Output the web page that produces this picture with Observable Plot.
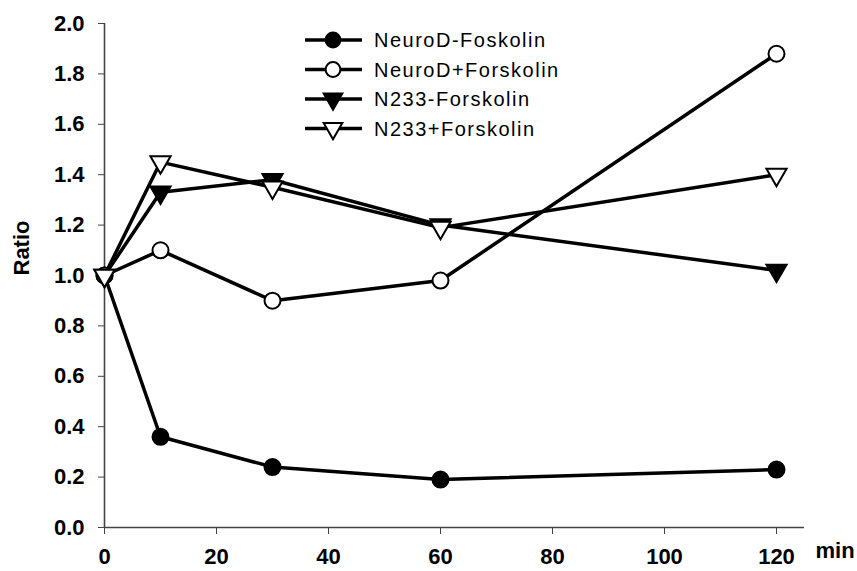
<!DOCTYPE html>
<html>
<head>
<meta charset="utf-8">
<script src="https://cdn.jsdelivr.net/npm/d3@7"></script>
<script src="https://cdn.jsdelivr.net/npm/@observablehq/plot@0.6"></script>
<style>
  body { margin: 0; background: #fff; }
  #wrap { position: relative; width: 857px; height: 571px; }
  #legend { position: absolute; left: 300px; top: 20px; }
  #chart svg text { font-size: 22px !important; font-weight: bold; fill: black; }
</style>
</head>
<body>
<div id="wrap"><div id="chart"></div><div id="legend"></div></div>
<script>
const times = [0, 10, 30, 60, 120];
const seriesNames = ["NeuroD-Foskolin", "NeuroD+Forskolin", "N233-Forskolin", "N233+Forskolin"];
const neuroDMinus = [1.0, 0.36, 0.24, 0.19, 0.23];
const neuroDPlus  = [1.0, 1.10, 0.90, 0.98, 1.88];
const n233Minus   = [1.0, 1.33, 1.38, 1.20, 1.02];
const n233Plus    = [1.0, 1.45, 1.35, 1.19, 1.40];
const xTicks = [0, 20, 40, 60, 80, 100, 120];
const yTicks = [0, 0.2, 0.4, 0.6, 0.8, 1.0, 1.2, 1.4, 1.6, 1.8, 2.0];

const seriesValues = [neuroDMinus, neuroDPlus, n233Minus, n233Plus];
const symbols = ["circle", "circle", "triangle", "triangle"];
const fills = ["black", "white", "black", "white"];
const rotations = [0, 0, 180, 180];
const radii = [8, 8, 7.5, 7.5];

const data = [];
seriesNames.forEach((name, i) => {
  times.forEach((t, j) => data.push({series: name, idx: i, t, v: seriesValues[i][j]}));
});

const font = "'Liberation Sans', Arial, sans-serif";

const dotMarks = seriesNames.map((name, i) =>
  Plot.dot(data.filter(d => d.idx === i), {
    x: "t", y: "v", symbol: symbols[i], r: radii[i], fill: fills[i],
    stroke: "black", strokeWidth: 2, rotate: rotations[i]
  })
);

const chart = Plot.plot({
  width: 857, height: 571,
  marginLeft: 104, marginTop: 23, marginBottom: 44, marginRight: 53,
  style: {fontFamily: font, fontSize: "22px", color: "black", background: "white", overflow: "visible"},
  x: {domain: [0, 125]},
  y: {domain: [0, 2]},
  marks: [
    Plot.axisY({ticks: yTicks, tickFormat: d3.format(".1f"), tickSize: 6, tickPadding: 14,
      label: null, fontSize: 22, stroke: "#444", fill: "black"}),
    Plot.axisX({ticks: xTicks, tickSize: 7, tickPadding: 14, label: null,
      fontSize: 22, stroke: "#444", fill: "black"}),
    Plot.ruleX([0], {stroke: "#444", strokeWidth: 1.6}),
    Plot.ruleY([0], {stroke: "#444", strokeWidth: 1.6}),
    Plot.text(["Ratio"], {text: d => d, frameAnchor: "left", rotate: -90, dx: -83,
      fontSize: 22, fill: "black"}),
    Plot.text(["min"], {text: d => d, frameAnchor: "bottom-right", textAnchor: "start",
      dx: 11, dy: 30, fontSize: 22, fill: "black"}),
    Plot.line(data, {x: "t", y: "v", z: "series", stroke: "black", strokeWidth: 3.5,
      strokeLinejoin: "round"}),
    ...dotMarks
  ]
});
document.getElementById("chart").appendChild(chart);

// Legend
const rowH = 29.5;
const lsvg = d3.select("#legend").append("svg")
  .attr("width", 260).attr("height", 130)
  .style("font-family", font).style("overflow", "visible");
seriesNames.forEach((name, i) => {
  const g = lsvg.append("g").attr("transform", `translate(0,${20 + i * rowH})`);
  g.append("line").attr("x1", 5).attr("x2", 62).attr("y1", 0).attr("y2", 0)
    .attr("stroke", "black").attr("stroke-width", 3.5);
  const sym = d3.symbol().type(symbols[i] === "circle" ? d3.symbolCircle : d3.symbolTriangle)
    .size(radii[i] * radii[i] * Math.PI * 0.85);
  g.append("path").attr("d", sym())
    .attr("transform", `translate(33,0) rotate(${rotations[i]})`)
    .attr("fill", fills[i]).attr("stroke", "black").attr("stroke-width", 2);
  g.append("text").attr("x", 74).attr("y", 0).attr("dy", "0.35em")
    .attr("font-size", 20).attr("letter-spacing", "1.5px").attr("fill", "black")
    .text(name);
});
</script>
</body>
</html>
